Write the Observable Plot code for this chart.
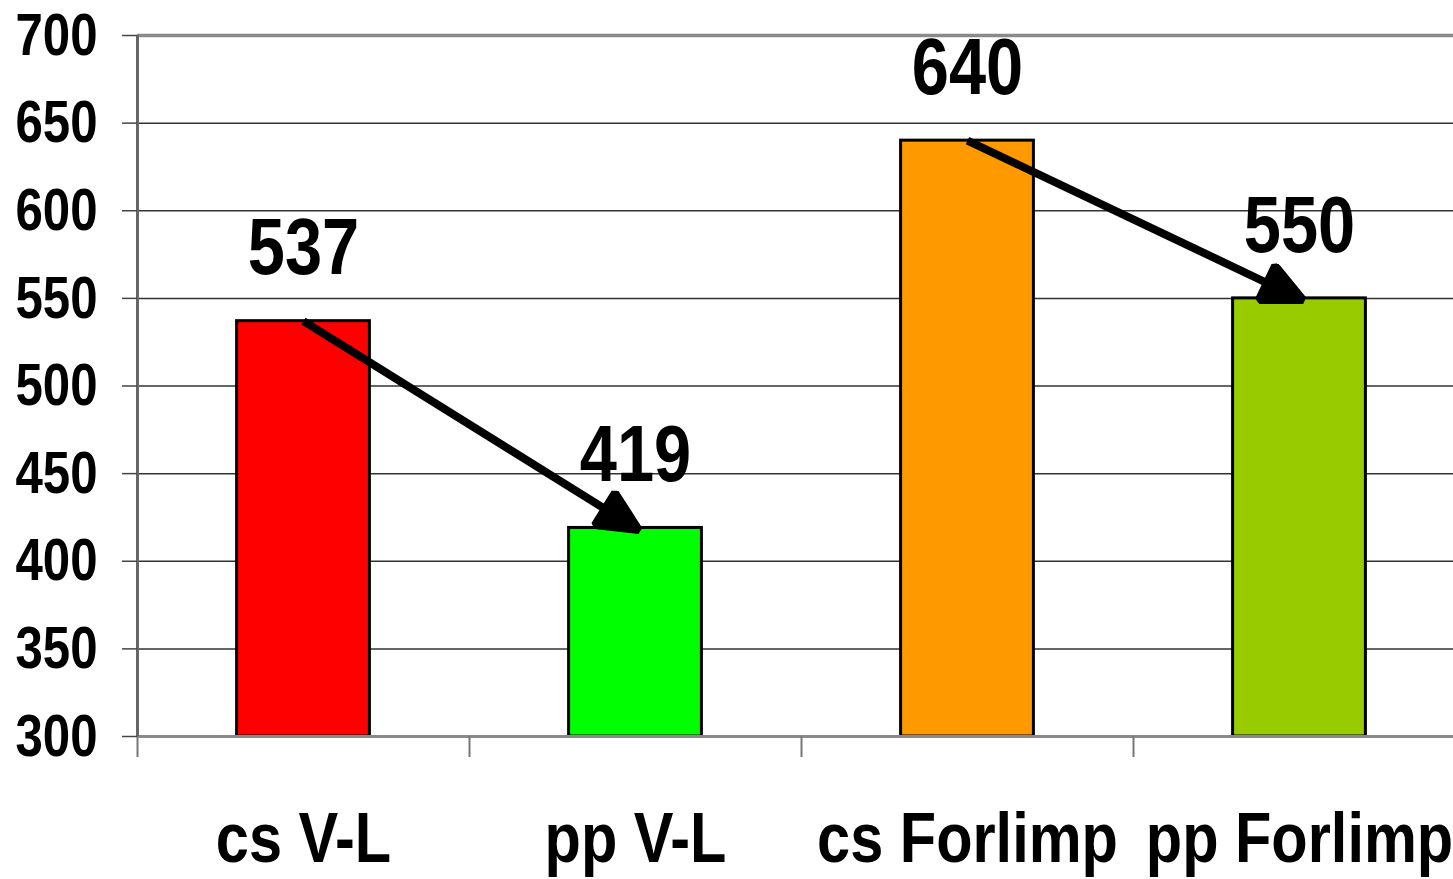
<!DOCTYPE html>
<html>
<head>
<meta charset="utf-8">
<script src="https://cdn.jsdelivr.net/npm/d3@7"></script>
<script src="https://cdn.jsdelivr.net/npm/@observablehq/plot@0.6"></script>
<style>
  html, body { margin: 0; padding: 0; background: #fff; overflow: hidden; }
  #chart svg { display: block; max-width: none !important; }
</style>
</head>
<body>
<div id="chart"></div>
<script>
const categories = ["cs V-L", "pp V-L", "cs Forlimp", "pp Forlimp"];
const values = [537, 419, 640, 550];
const colors = ["#FF0000", "#00FF00", "#FF9900", "#99CC00"];
const yTicks = [300, 350, 400, 450, 500, 550, 600, 650, 700];
const arrowPairs = [[0, 1], [2, 3]];

const FONT = "'Liberation Sans', Arial, sans-serif";

const bars = categories.map((c, i) => ({i, category: c, value: values[i], color: colors[i]}));
const arrows = arrowPairs.map(([a, b]) => ({x1: a + 0.5, y1: values[a], x2: b + 0.5, y2: values[b]}));

// condense text horizontally around its anchor point (Arial Narrow look)
function narrow(k) {
  return function (index, scales, values, dimensions, context, next) {
    const g = next(index, scales, values, dimensions, context);
    d3.select(g).selectAll("text").each(function () {
      const t = d3.select(this);
      const tr = t.attr("transform");
      if (tr) {
        t.attr("transform", tr + ` scale(${k},1)`);
      } else {
        const x = +t.attr("x") || 0, y = +t.attr("y") || 0;
        t.attr("x", null).attr("y", null).attr("transform", `translate(${x},${y}) scale(${k},1)`);
      }
    });
    return g;
  };
}

function arrowHead(color, context) {
  const m = d3.create("svg:marker")
    .attr("viewBox", "-44 -22 50 44")
    .attr("markerWidth", 50)
    .attr("markerHeight", 44)
    .attr("markerUnits", "userSpaceOnUse")
    .attr("refX", 0)
    .attr("refY", 0)
    .attr("orient", "auto");
  m.append("path").attr("d", "M4,0L-36,-19L-36,19Z").attr("fill", "#000");
  return m.node();
}

const chart = Plot.plot({
  width: 1465,
  height: 879,
  marginLeft: 137,
  marginRight: 0,
  marginTop: 35,
  marginBottom: 143,
  style: {fontFamily: FONT, background: "#fff"},
  x: {type: "linear", domain: [0, 4], axis: null},
  y: {domain: [300, 700], axis: null},
  marks: [
    Plot.ruleY(yTicks.filter(t => t !== 300 && t !== 700), {stroke: "#333", strokeWidth: 1.5}),
    Plot.ruleY([700], {stroke: "#8a8a8a", strokeWidth: 3.5}),
    Plot.rectY(bars, {x1: d => d.i + 0.3, x2: d => d.i + 0.7, y1: 300, y2: "value", fill: "color", stroke: "#000", strokeWidth: 3}),
    Plot.ruleY([300], {stroke: "#8a8a8a", strokeWidth: 3}),
    Plot.ruleX([0], {stroke: "#666", strokeWidth: 3}),
    Plot.axisX({ticks: [0, 1, 2, 3, 4], tickSize: 21, tickFormat: () => "", stroke: "#777", strokeWidth: 2}),
    Plot.axisY({ticks: yTicks, tickSize: 15, tickFormat: () => "", stroke: "#444", strokeWidth: 1.5}),
    Plot.text(yTicks, {y: d => d, text: d => String(d), frameAnchor: "left", dx: -40, textAnchor: "end", lineAnchor: "middle", fontSize: 60, fontWeight: "bold", fill: "#000", render: narrow(0.82)}),
    Plot.link(arrows, {x1: "x1", y1: "y1", x2: "x2", y2: "y2", stroke: "#000", strokeWidth: 8, markerEnd: arrowHead}),
    Plot.text(bars, {x: d => d.i + 0.5, y: "value", text: d => String(d.value), dy: -72, lineAnchor: "middle", fontSize: 79, fontWeight: "bold", fill: "#000", render: narrow(0.845)}),
    Plot.text(bars, {x: d => d.i + 0.5, text: "category", frameAnchor: "bottom", dy: 103, lineAnchor: "middle", fontSize: 70, fontWeight: "bold", fill: "#000", render: narrow(0.85)})
  ]
});
document.getElementById("chart").appendChild(chart);
</script>
</body>
</html>
